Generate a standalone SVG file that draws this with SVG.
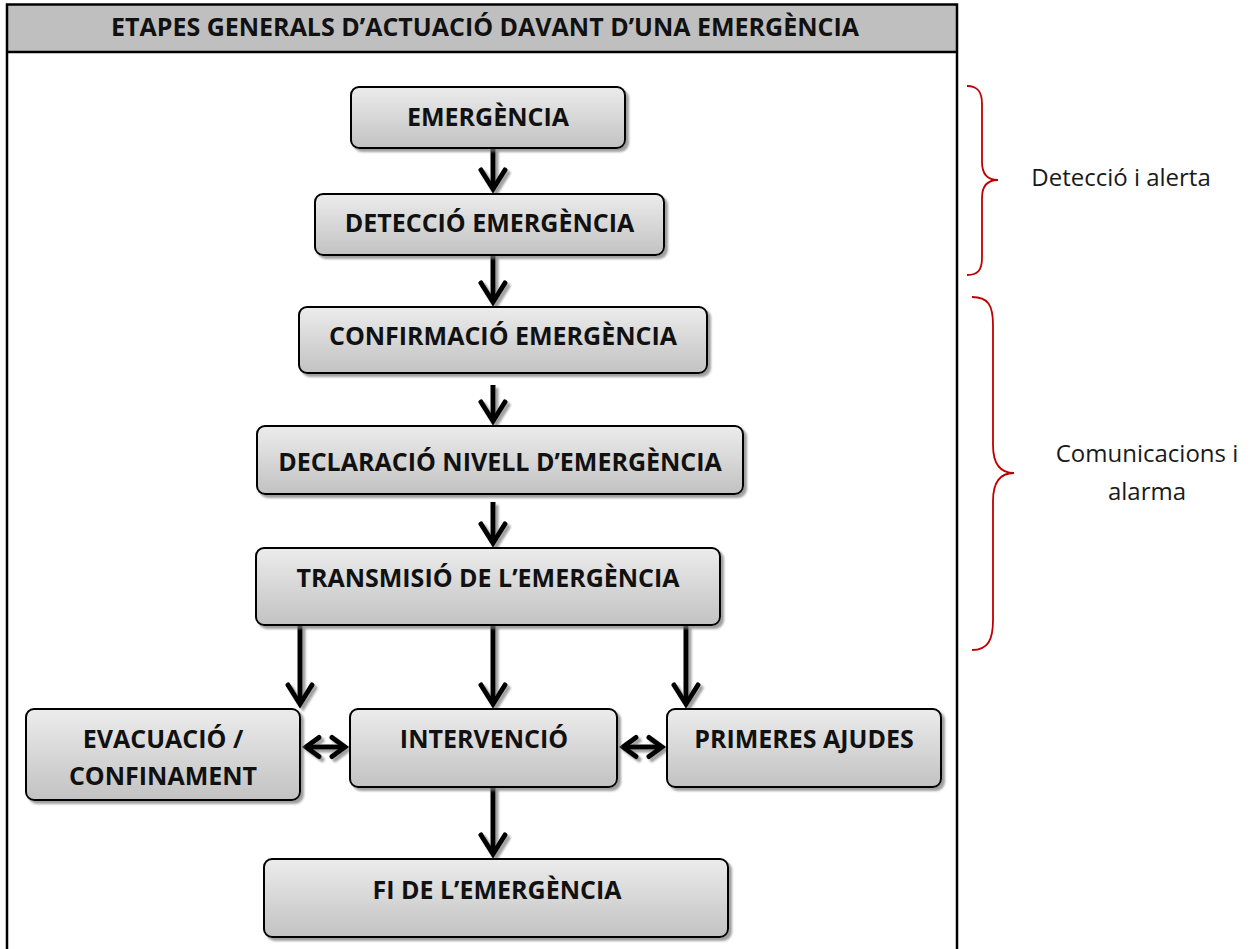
<svg xmlns="http://www.w3.org/2000/svg" width="1253" height="949" viewBox="0 0 1253 949">
<style>
.box{fill:url(#g);stroke:#000;stroke-width:2;filter:url(#sh)}
.t{font-family:"Open Sans","Liberation Sans",sans-serif;font-weight:bold;font-size:25px;text-anchor:middle;fill:#111}
.lbl{font-family:"Open Sans","Liberation Sans",sans-serif;font-size:24px;text-anchor:middle;fill:#1a1a1a}
.c{fill:none;stroke:#000;stroke-width:5}
.brace{fill:none;stroke:#c00000;stroke-width:1.8}
</style>
<defs>
<linearGradient id="g" x1="0" y1="0" x2="0" y2="1">
<stop offset="0" stop-color="#ececec"/>
<stop offset="1" stop-color="#c2c2c2"/>
</linearGradient>
<filter id="sh" x="-10%" y="-20%" width="130%" height="160%">
<feDropShadow dx="3" dy="3" stdDeviation="0.8" flood-color="#777" flood-opacity="0.7"/>
</filter>
<marker id="ah" markerUnits="userSpaceOnUse" markerWidth="40" markerHeight="40" refX="0" refY="0" orient="auto-start-reverse" overflow="visible">
<path d="M-19,-12 L0,0 L-19,12" fill="none" stroke="#000" stroke-width="5" stroke-linecap="round" stroke-linejoin="miter"/>
</marker>
<marker id="ah2" markerUnits="userSpaceOnUse" markerWidth="40" markerHeight="40" refX="0" refY="0" orient="auto-start-reverse" overflow="visible">
<path d="M-13,-9.5 L0,0 L-13,9.5" fill="none" stroke="#000" stroke-width="5" stroke-linecap="round" stroke-linejoin="miter"/>
</marker>
</defs>
<rect width="1253" height="949" fill="#fff"/>
<g id="frame">
<rect x="7" y="4.5" width="950" height="47.5" fill="#bfbfbf"/>
<path d="M7,960 L7,4.5 L957,4.5 L957,960 M7,52 L957,52" fill="none" stroke="#000" stroke-width="2.5"/>
<text x="485" y="36" class="t">ETAPES GENERALS D’ACTUACIÓ DAVANT D’UNA EMERGÈNCIA</text>
</g>
<g id="connectors" filter="url(#sh)">
<path class="c" d="M493,148 L493,189" marker-end="url(#ah)"/>
<path class="c" d="M493,255 L493,302" marker-end="url(#ah)"/>
<path class="c" d="M493,385 L493,421" marker-end="url(#ah)"/>
<path class="c" d="M493,502 L493,543" marker-end="url(#ah)"/>
<path class="c" d="M300,625 L300,704" marker-end="url(#ah)"/>
<path class="c" d="M493,625 L493,704" marker-end="url(#ah)"/>
<path class="c" d="M686,625 L686,704" marker-end="url(#ah)"/>
<path class="c" d="M493,787 L493,854" marker-end="url(#ah)"/>
<path class="c" d="M306,747 L345,747" marker-start="url(#ah2)" marker-end="url(#ah2)"/>
<path class="c" d="M623,747 L662,747" marker-start="url(#ah2)" marker-end="url(#ah2)"/>
</g>
<g id="n1"><rect class="box" x="351" y="87" width="274" height="61" rx="8"/><text class="t" x="488" y="126">EMERGÈNCIA</text></g>
<g id="n2"><rect class="box" x="315" y="194" width="349" height="61" rx="8"/><text class="t" x="489.5" y="232">DETECCIÓ EMERGÈNCIA</text></g>
<g id="n3"><rect class="box" x="299" y="307" width="408" height="66" rx="8"/><text class="t" x="503" y="345">CONFIRMACIÓ EMERGÈNCIA</text></g>
<g id="n4"><rect class="box" x="257" y="426" width="486" height="68" rx="8"/><text class="t" x="500" y="471">DECLARACIÓ NIVELL D’EMERGÈNCIA</text></g>
<g id="n5"><rect class="box" x="256" y="548" width="464" height="77" rx="8"/><text class="t" x="488" y="587">TRANSMISIÓ DE L’EMERGÈNCIA</text></g>
<g id="n6"><rect class="box" x="26" y="709" width="274" height="91" rx="8"/><text class="t" x="163" y="748">EVACUACIÓ /</text><text class="t" x="163" y="785">CONFINAMENT</text></g>
<g id="n7"><rect class="box" x="350" y="709" width="267" height="78" rx="8"/><text class="t" x="484" y="748">INTERVENCIÓ</text></g>
<g id="n8"><rect class="box" x="667" y="709" width="274" height="78" rx="8"/><text class="t" x="804" y="748">PRIMERES AJUDES</text></g>
<g id="n9"><rect class="box" x="264" y="859" width="464" height="78" rx="8"/><text class="t" x="497" y="899">FI DE L’EMERGÈNCIA</text></g>
<g id="brace1">
<path class="brace" d="M967,86 C978,86 982,92 982,104 L982,162 C982,173 987,180 998,180 C987,180 982,187 982,198 L982,258 C982,270 978,275 967,275"/>
<text class="lbl" x="1121" y="186">Detecció i alerta</text>
</g>
<g id="brace2">
<path class="brace" d="M972,297 C988,297 993,305 993,325 L993,445 C993,463 1000,473 1014,473 C1000,473 993,483 993,501 L993,620 C993,640 988,650 972,650"/>
<text class="lbl" x="1147" y="462">Comunicacions i</text>
<text class="lbl" x="1147" y="500">alarma</text>
</g>
</svg>
